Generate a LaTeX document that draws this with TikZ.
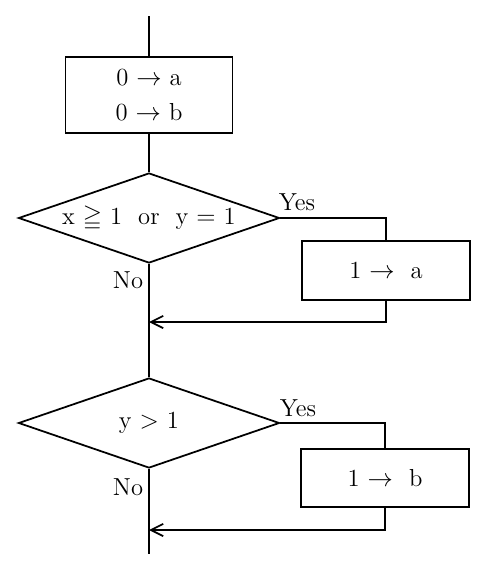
\documentclass[tikz,border=0pt]{standalone}
\usepackage{amssymb}
\usetikzlibrary{shapes.geometric,arrows.meta}
\begin{document}
\begin{tikzpicture}[line width=1pt,
    >={Straight Barb[length=7pt,width=7pt]},
    box/.style={draw,rectangle,inner sep=0pt,minimum width=3.36cm},
    decision/.style={draw,diamond,inner sep=0pt,aspect=2.9,minimum width=5.22cm,minimum height=1.8cm},
    every node/.style={font=\fontsize{14}{20}\selectfont}]
      \useasboundingbox (0,0) rectangle (9.76,-11.42);

      \coordinate (start) at (2.98,-0.32);
      \node[box,minimum width=3.34cm,minimum height=1.52cm,align=center] (init) at (2.98,-1.90) {0 $\rightarrow$ a\\0 $\rightarrow$ b};
      \node[decision] (condA) at (2.98,-4.36) {x $\geqq$ 1 \ or \ y $=$ 1};
      \node[box,minimum height=1.18cm] (seta) at (7.72,-5.41) {1 $\rightarrow$ \ a};
      \coordinate (joinA) at (2.98,-6.44);
      \node[decision] (condB) at (2.98,-8.46) {y $>$ 1};
      \node[box,minimum height=1.16cm] (setb) at (7.70,-9.56) {1 $\rightarrow$ \ b};
      \coordinate (joinB) at (2.98,-10.60);
      \coordinate (finish) at (2.98,-11.08);

      \node (yesA) at (5.94,-4.04) {Yes};
      \node (noA) at (2.56,-5.60) {No};
      \node (yesB) at (5.96,-8.16) {Yes};
      \node (noB) at (2.56,-9.74) {No};

      \draw (start) -- (init);
      \draw (init) -- (condA);
      \draw (condA.east) -| (seta);
      \draw[->] (seta) |- (joinA);
      \draw (condA) -- (condB);
      \draw (condB.east) -| (setb);
      \draw[->] (setb) |- (joinB);
      \draw (condB) -- (finish);
    \end{tikzpicture}
\end{document}
